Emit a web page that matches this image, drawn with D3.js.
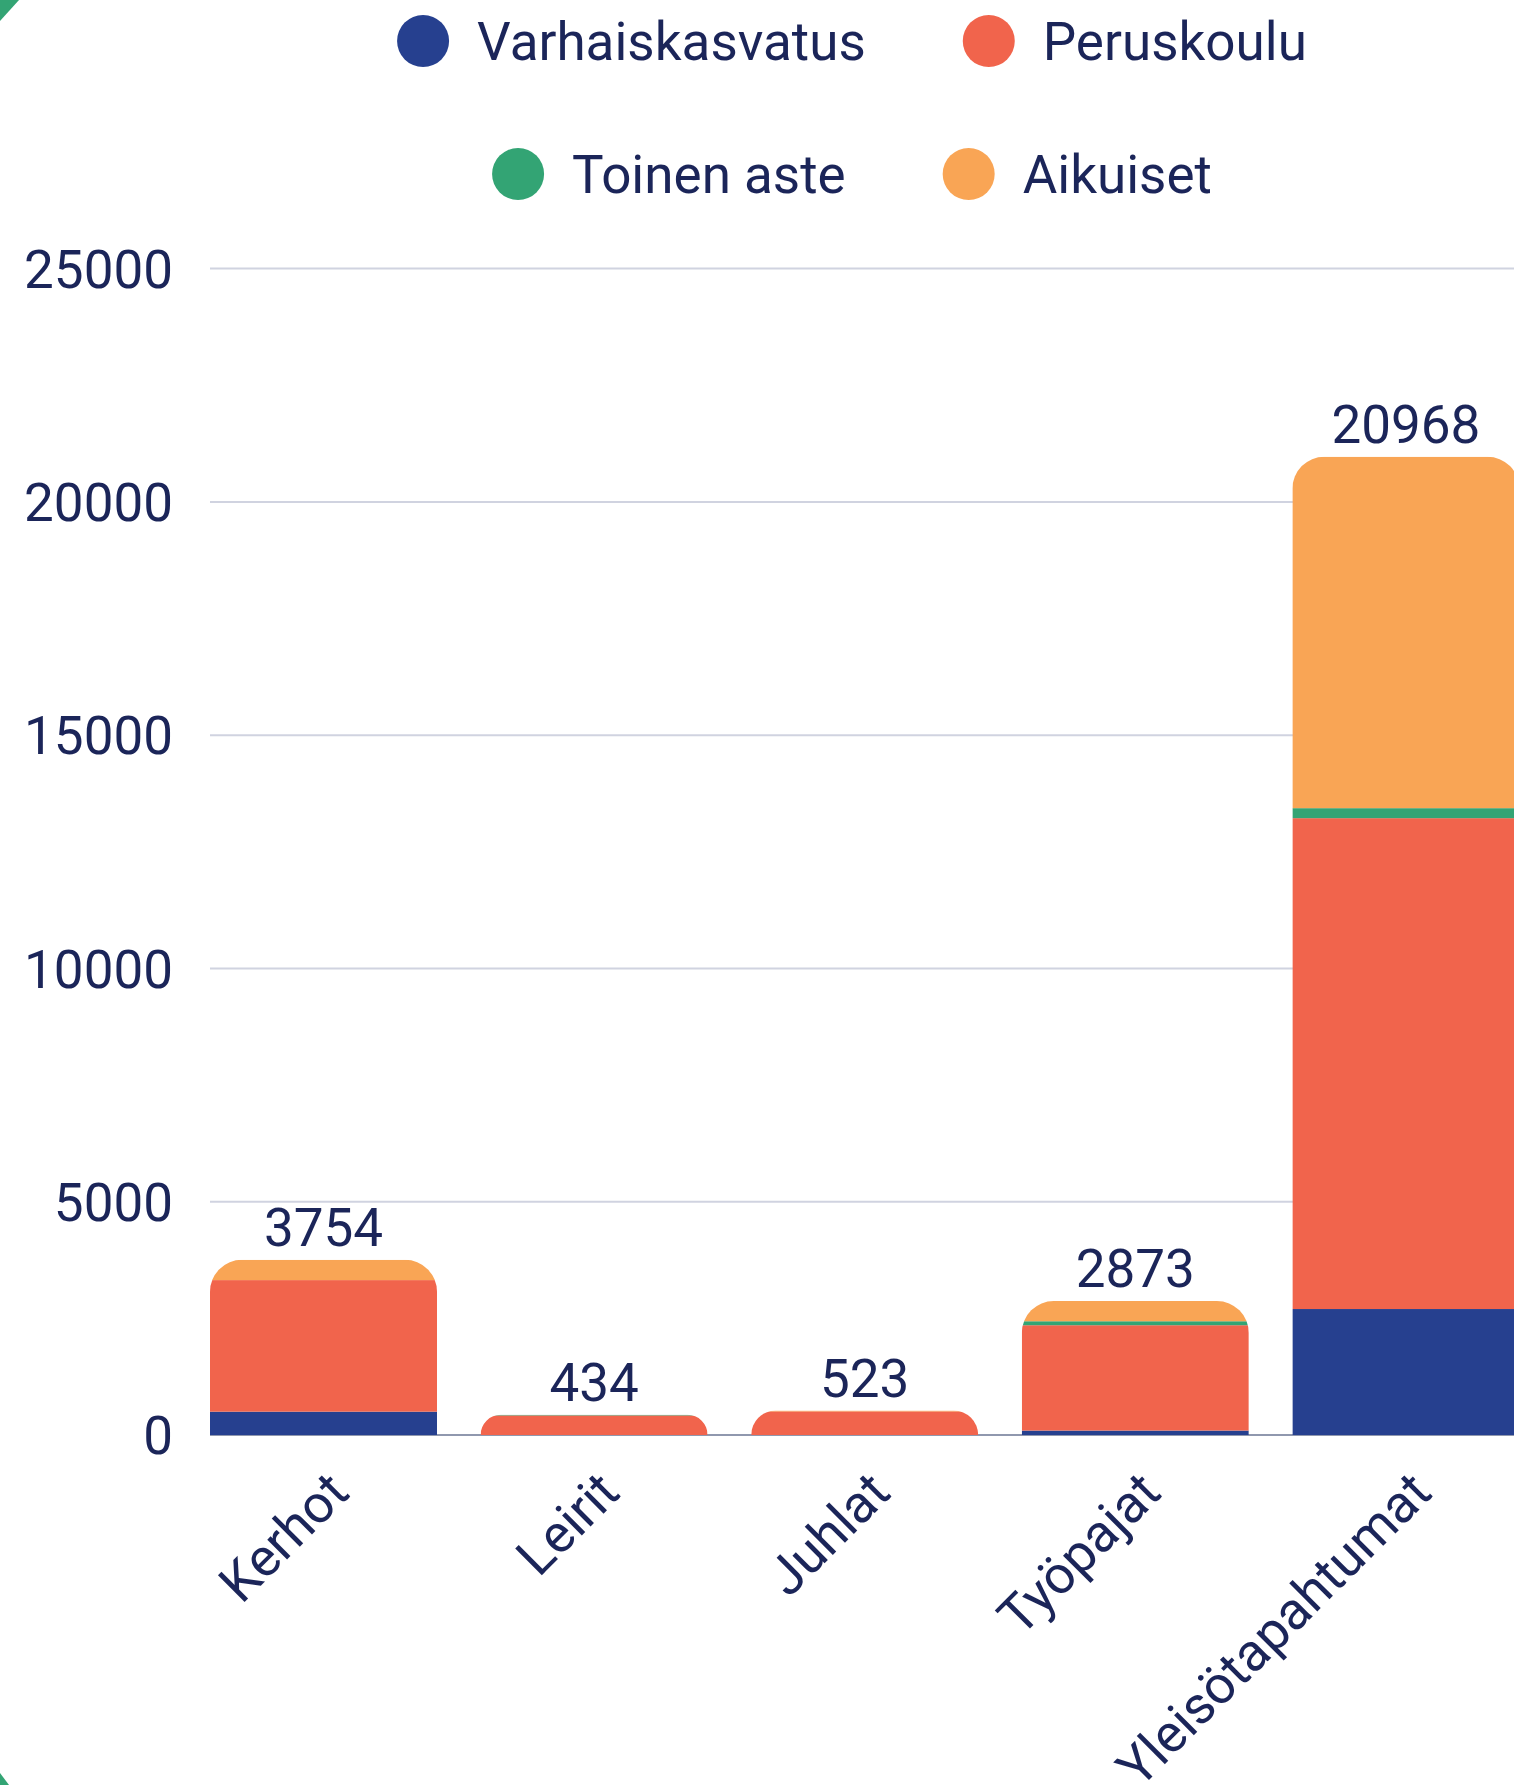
<!DOCTYPE html>
<html>
<head>
<meta charset="utf-8">
<script src="https://cdn.jsdelivr.net/npm/d3@7"></script>
<style>
  html, body { margin: 0; padding: 0; background: #ffffff; overflow: hidden; }
  svg { display: block; font-family: Roboto, "Noto Sans", sans-serif; }
</style>
</head>
<body>
<svg id="chart" width="1514" height="1785"></svg>
<script>
// ---- Data ----
const categories = ["Kerhot", "Leirit", "Juhlat", "Työpajat", "Yleisötapahtumat"];
const seriesNames = ["Varhaiskasvatus", "Peruskoulu", "Toinen aste", "Aikuiset"];
const varhaiskasvatus = [500, 0, 0, 95, 2700];
const peruskoulu = [2820, 420, 506, 2258, 10521];
const toinenAste = [0, 14, 0, 85, 214];
const aikuiset = [434, 0, 17, 435, 7533];
const yTicks = [0, 5000, 10000, 15000, 20000, 25000];
const seriesColors = ["#26408f", "#f1644c", "#33a474", "#f9a555"];

const seriesValues = [varhaiskasvatus, peruskoulu, toinenAste, aikuiset];
const rows = categories.map((c, i) => {
  const r = { category: c };
  seriesNames.forEach((s, k) => { r[s] = seriesValues[k][i]; });
  r.total = seriesNames.reduce((a, s) => a + r[s], 0);
  return r;
});

// ---- Layout ----
const textColor = "#1b2559";
const fontSize = 53;
const plotLeft = 210, plotTop = 268.6, plotBottom = 1435;
const step = 270.6, barW = 227;
const pIn = 1 - barW / step;

const svg = d3.select("#chart");

const x = d3.scaleBand()
  .domain(categories)
  .range([plotLeft, plotLeft + step * (categories.length - pIn)])
  .paddingInner(pIn)
  .paddingOuter(0);

const y = d3.scaleLinear().domain([0, 25000]).range([plotBottom, plotTop]);

// corner decorations (green background peeking through)
svg.append("path").attr("d", "M0,0 L19,0 L0,21 Z").attr("fill", "#33a474");
svg.append("path").attr("d", "M0,1773 L9,1785 L0,1785 Z").attr("fill", "#33a474");

// gridlines
svg.append("g").selectAll("line")
  .data(yTicks.filter(d => d !== 0))
  .join("line")
  .attr("x1", plotLeft).attr("x2", 1514)
  .attr("y1", d => y(d)).attr("y2", d => y(d))
  .attr("stroke", "#d0d3e0").attr("stroke-width", 2);

// baseline
svg.append("line")
  .attr("x1", plotLeft).attr("x2", 1514)
  .attr("y1", y(0)).attr("y2", y(0))
  .attr("stroke", "#9098ae").attr("stroke-width", 2);

// y axis labels
const yAxis = svg.append("g")
  .attr("transform", `translate(${plotLeft},0)`)
  .call(d3.axisLeft(y).tickValues(yTicks).tickSize(0).tickPadding(37).tickFormat(d => String(d)));
yAxis.select(".domain").remove();
yAxis.selectAll("text")
  .attr("dy", null)
  .attr("y", fontSize * 0.355)
  .attr("fill", textColor)
  .style("font-family", "Roboto")
  .style("font-size", fontSize + "px");

// x axis labels
const xAxis = svg.append("g")
  .attr("transform", `translate(0,${plotBottom})`)
  .call(d3.axisBottom(x).tickSize(0));
xAxis.select(".domain").remove();
xAxis.selectAll("text")
  .attr("x", 0).attr("y", 0).attr("dy", null)
  .attr("transform", "translate(28,60) rotate(-45)")
  .attr("text-anchor", "end")
  .attr("fill", textColor)
  .style("font-family", "Roboto")
  .style("font-size", fontSize + "px");

// clip paths (rounded top per stack)
const defs = svg.append("defs");
const R = 32;
rows.forEach((r, i) => {
  const bx = x(r.category), bw = x.bandwidth();
  const top = y(r.total), h = y(0) - top;
  const rr = Math.min(R, h, bw / 2);
  const d = `M${bx},${y(0)} L${bx},${top + rr} A${rr},${rr} 0 0 1 ${bx + rr},${top} L${bx + bw - rr},${top} A${rr},${rr} 0 0 1 ${bx + bw},${top + rr} L${bx + bw},${y(0)} Z`;
  defs.append("clipPath").attr("id", "clip" + i).append("path").attr("d", d);
});

// stacked bars
const stack = d3.stack().keys(seriesNames)(rows);
const barsG = svg.append("g");
categories.forEach((c, i) => {
  const g = barsG.append("g").attr("clip-path", `url(#clip${i})`);
  stack.forEach((layer, k) => {
    const seg = layer[i];
    if (seg[1] - seg[0] <= 0) return;
    g.append("rect")
      .attr("x", x(c))
      .attr("width", x.bandwidth())
      .attr("y", y(seg[1]))
      .attr("height", y(seg[0]) - y(seg[1]))
      .attr("fill", seriesColors[k]);
  });
});

// total labels
svg.append("g").selectAll("text")
  .data(rows)
  .join("text")
  .attr("x", d => x(d.category) + x.bandwidth() / 2)
  .attr("y", d => y(d.total) - 14)
  .attr("text-anchor", "middle")
  .attr("fill", textColor)
  .style("font-size", fontSize + "px")
  .text(d => d.total);

// legend
const legendRows = [[0, 1], [2, 3]];
const legendY = [41, 174];
const legendCenter = 852;
const circleR = 26, textGap = 28, itemGap = 97;
const legendG = svg.append("g");
legendRows.forEach((idxs, ri) => {
  const items = idxs.map(k => {
    const t = legendG.append("text")
      .attr("fill", textColor)
      .style("font-size", fontSize + "px")
      .text(seriesNames[k]);
    return { k, t, w: t.node().getComputedTextLength() };
  });
  const total = items.reduce((a, it) => a + 2 * circleR + textGap + it.w, 0) + itemGap * (items.length - 1);
  let cx = legendCenter - total / 2;
  items.forEach(it => {
    legendG.append("circle")
      .attr("cx", cx + circleR).attr("cy", legendY[ri]).attr("r", circleR)
      .attr("fill", seriesColors[it.k]);
    it.t.attr("x", cx + 2 * circleR + textGap).attr("y", legendY[ri] + fontSize * 0.355);
    cx += 2 * circleR + textGap + it.w + itemGap;
  });
});
</script>
</body>
</html>
